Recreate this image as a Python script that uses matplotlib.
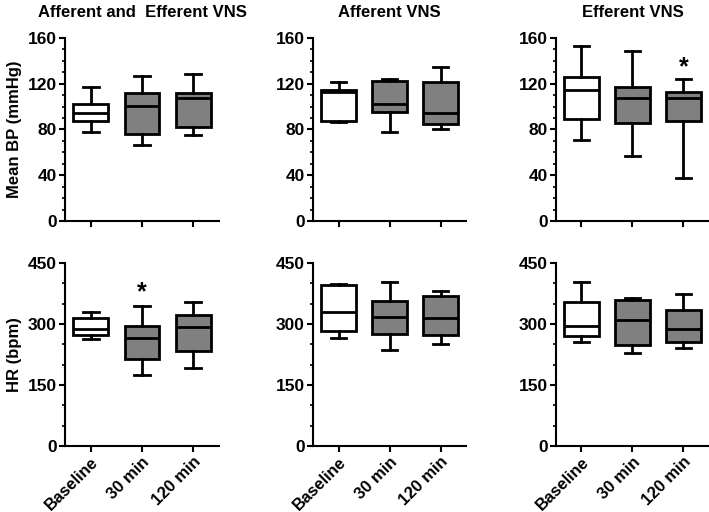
import matplotlib
matplotlib.use("Agg")
import matplotlib.pyplot as plt
from matplotlib.ticker import MultipleLocator

plt.rcParams['font.family'] = ['Liberation Sans', 'DejaVu Sans']
plt.rcParams['font.weight'] = 'bold'

categories = ["Baseline", "30 min", "120 min"]
titles = ["Afferent and  Efferent VNS", "Afferent VNS", "Efferent VNS"]

# Mean BP (mmHg): [whisker low, Q1, median, Q3, whisker high] per group
bp_both_lo = [78.2, 66.0, 75.0]
bp_both_q1 = [87.0, 75.9, 82.6]
bp_both_med = [94.3, 100.1, 107.4]
bp_both_q3 = [102.5, 112.1, 112.1]
bp_both_hi = [116.8, 126.7, 128.8]

bp_aff_lo = [86.4, 78.2, 80.3]
bp_aff_q1 = [87.0, 95.2, 84.7]
bp_aff_med = [112.4, 102.5, 94.3]
bp_aff_q3 = [114.7, 122.6, 121.8]
bp_aff_hi = [121.5, 123.8, 134.3]

bp_eff_lo = [71.0, 57.0, 37.2]
bp_eff_q1 = [89.3, 85.8, 87.3]
bp_eff_med = [114.3, 107.6, 107.6]
bp_eff_q3 = [126.3, 117.0, 112.9]
bp_eff_hi = [153.3, 148.7, 124.2]

# HR (bpm)
hr_both_lo = [263.3, 174.4, 192.5]
hr_both_q1 = [272.3, 213.9, 233.6]
hr_both_med = [288.8, 264.9, 292.0]
hr_both_q3 = [314.3, 294.5, 323.3]
hr_both_hi = [329.1, 345.5, 354.6]

hr_aff_lo = [264.9, 235.3, 250.1]
hr_aff_q1 = [283.0, 276.4, 273.9]
hr_aff_med = [329.9, 317.6, 314.3]
hr_aff_q3 = [395.7, 357.0, 368.6]
hr_aff_hi = [399.0, 402.3, 381.7]

hr_eff_lo = [255.9, 228.7, 241.0]
hr_eff_q1 = [271.5, 249.3, 255.9]
hr_eff_med = [296.2, 309.3, 287.1]
hr_eff_q3 = [354.6, 358.7, 335.6]
hr_eff_hi = [403.1, 364.4, 372.7]

# significance markers: (row, col, group index, y value)
stars = [(0, 2, 2, 134.7), (1, 0, 1, 378.7)]

rows = [
    [(bp_both_lo, bp_both_q1, bp_both_med, bp_both_q3, bp_both_hi),
     (bp_aff_lo, bp_aff_q1, bp_aff_med, bp_aff_q3, bp_aff_hi),
     (bp_eff_lo, bp_eff_q1, bp_eff_med, bp_eff_q3, bp_eff_hi)],
    [(hr_both_lo, hr_both_q1, hr_both_med, hr_both_q3, hr_both_hi),
     (hr_aff_lo, hr_aff_q1, hr_aff_med, hr_aff_q3, hr_aff_hi),
     (hr_eff_lo, hr_eff_q1, hr_eff_med, hr_eff_q3, hr_eff_hi)],
]
ylabels = ["Mean BP (mmHg)", "HR (bpm)"]
ylims = [160, 450]
ymajor = [40, 150]
yminor = [10, 50]

fill_colors = ["white", "#808080", "#808080"]

fig = plt.figure(figsize=(7.09, 5.12), dpi=100)
lefts = [0.0917, 0.4415, 0.7842]
widths = [0.2172, 0.2158, 0.2158]
bottoms = [0.5684, 0.1289]
height = 0.3574

for r in range(2):
    for c in range(3):
        ax = fig.add_axes([lefts[c], bottoms[r], widths[c], height])
        lo, q1, med, q3, hi = rows[r][c]
        stats = []
        for i in range(3):
            stats.append(dict(whislo=lo[i], q1=q1[i], med=med[i], q3=q3[i],
                              whishi=hi[i], fliers=[], label=categories[i]))
        bp = ax.bxp(stats, positions=[1, 2, 3], widths=0.68, capwidths=0.31,
                    patch_artist=True, showfliers=False,
                    boxprops=dict(linewidth=2.0, edgecolor='black'),
                    medianprops=dict(linewidth=2.0, color='black'),
                    whiskerprops=dict(linewidth=2.0, color='black'),
                    capprops=dict(linewidth=2.0, color='black'))
        for patch, fc in zip(bp['boxes'], fill_colors):
            patch.set_facecolor(fc)
        ax.set_xlim(0.5, 3.5)
        ax.set_ylim(0, ylims[r])
        ax.yaxis.set_major_locator(MultipleLocator(ymajor[r]))
        ax.yaxis.set_minor_locator(MultipleLocator(yminor[r]))
        for s in ['top', 'right']:
            ax.spines[s].set_visible(False)
        for s in ['left', 'bottom']:
            ax.spines[s].set_linewidth(1.5)
        ax.tick_params(axis='both', which='major', length=4, width=1.5,
                       labelsize=12.5, pad=2)
        ax.tick_params(axis='y', which='minor', length=2.5, width=1.2)
        ax.set_xticks([1, 2, 3])
        if r == 1:
            ax.set_xticklabels(categories, rotation=45, ha='right',
                               rotation_mode='anchor', fontsize=12,
                               fontweight='bold')
        else:
            ax.set_xticklabels([])
        for lab in ax.get_yticklabels():
            lab.set_fontweight('bold')
        if c == 0:
            ax.set_ylabel(ylabels[r], fontsize=12, fontweight='bold', labelpad=4)
        if r == 0:
            ax.set_title(titles[c], fontsize=12, fontweight='bold', pad=15)
        for (sr, sc, gi, yv) in stars:
            if sr == r and sc == c:
                ax.text(gi + 1, yv, "*", ha='center', va='center',
                        fontsize=18, fontweight='bold')

fig.savefig("out.png", dpi=100)
